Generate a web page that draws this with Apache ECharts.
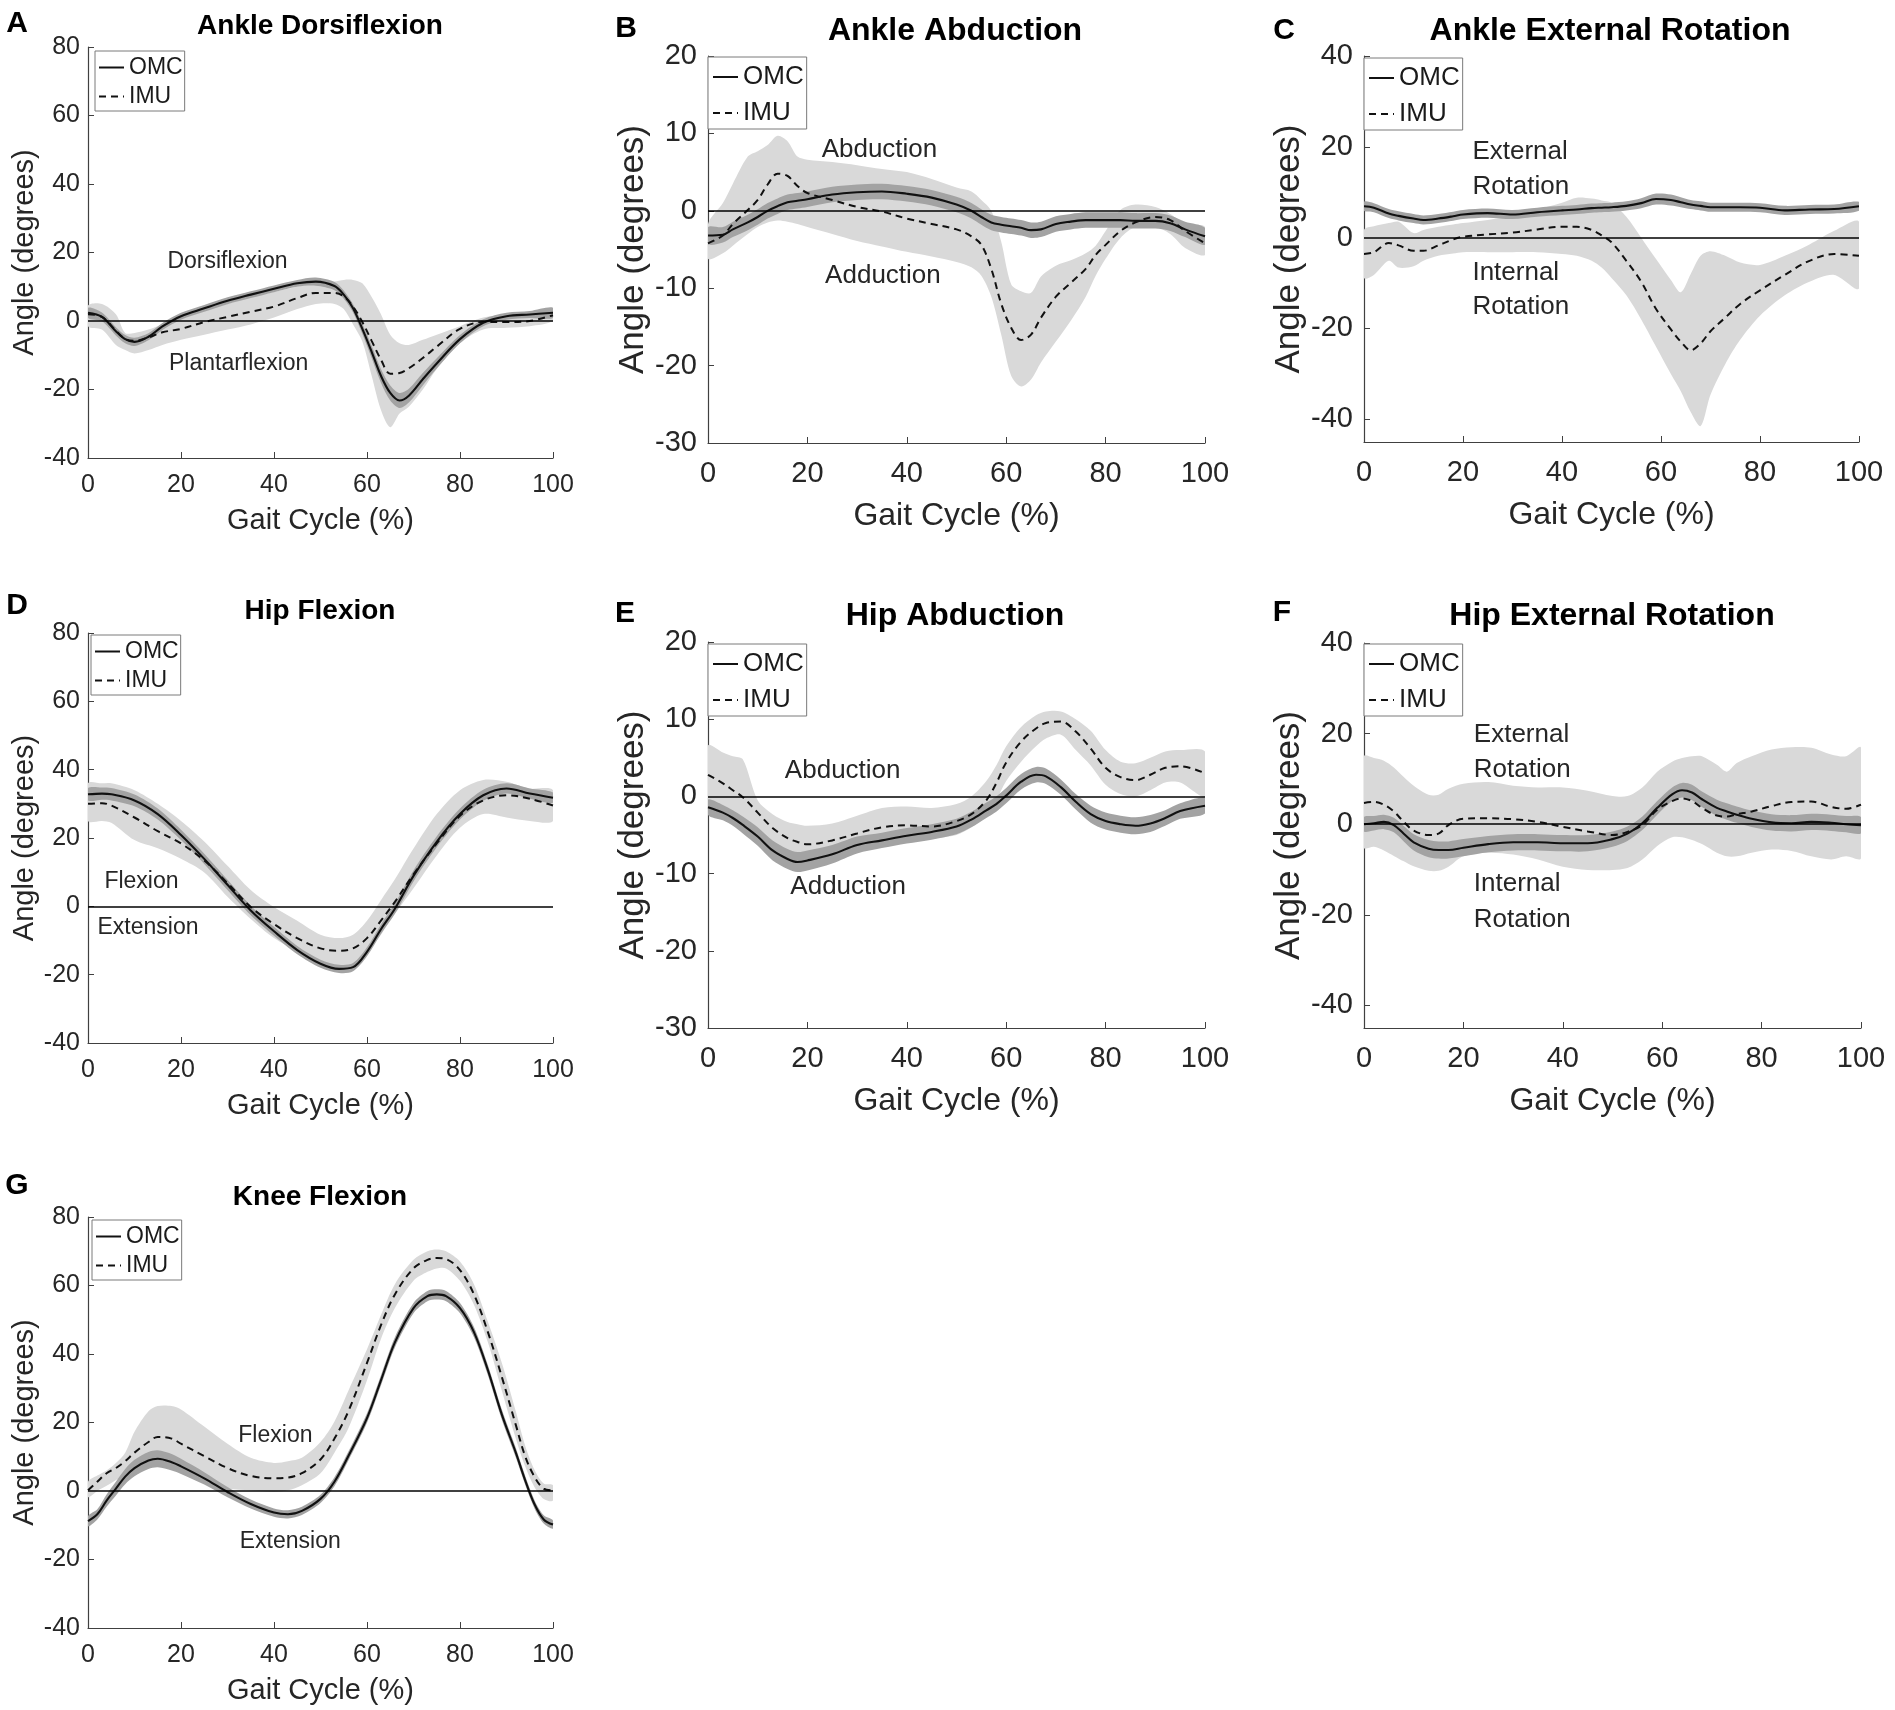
<!DOCTYPE html>
<html><head><meta charset="utf-8">
<script src="https://cdn.jsdelivr.net/npm/echarts@6/dist/echarts.min.js"></script>
<style>html,body{margin:0;padding:0;background:#fff}#c{width:1895px;height:1710px}</style>
</head><body><div id="c"></div>
<script>
// ---------------- DATA ----------------
const xTicks = [0, 20, 40, 60, 80, 100];
const yTicksRot = [-40, -20, 0, 20, 40];

// A  Ankle Dorsiflexion
const xA = [0,3,6,8,10,13,16,20,25,30,35,40,45,49,53,55,57,59,61,63,65,67,69,72,75,80,85,90,95,100];
const omcA = [2.4,1.2,-3,-5.3,-6.1,-4.6,-1.6,1.4,3.7,5.9,7.7,9.4,11,11.5,10.2,7.7,3.7,-2.3,-9,-16,-21,-23.2,-21.8,-17,-12.4,-5.3,-0.5,1.4,1.9,2.4];
const omcSdA = [1.5,1.3,1.2,1.2,1.2,1,1,1,1,1,1,1,1,1.2,1.2,1.2,1.2,1.5,1.8,2,2.2,2.2,2,1.8,1.5,1.2,1,1,1,1.5];
const imuA = [2,1.2,-2.8,-5.3,-5.8,-4.8,-3.3,-2.3,-0.3,1.2,2.7,4.2,6.7,8.2,8.2,7.2,4.2,-0.3,-5.8,-11.3,-15.4,-15.2,-13.8,-10.8,-7.5,-2.3,-0.3,-0.3,0,1.7];
const imuHiA = [4.5,5,2,-3.5,-3.5,-2.5,-1,0.5,3,5,7,8.5,10,11,11.5,12,12,11,7,2,-4,-6.5,-7,-5.5,-4,-1.5,1,1.5,1.5,3];
const imuLoA = [-1.5,-2.5,-7,-8.5,-9.5,-8.5,-7,-5.5,-4,-2.5,-1,1,3.5,5,5,3.5,-1,-6,-16,-26,-31,-27,-25,-20,-14,-6.5,-2.5,-2,-1.5,0];

// B  Ankle Abduction
const xB = [0,3,5,8,10,12,14,16,18,20,25,30,35,40,45,50,53,55,57,59,61,63,65,67,70,73,76,78,80,83,86,90,93,96,100];
const omcB = [-3.2,-3.1,-2.4,-1.5,-0.8,0,0.6,1.1,1.3,1.5,2.1,2.4,2.5,2.2,1.7,0.8,0,-0.8,-1.5,-1.8,-2,-2.2,-2.5,-2.4,-1.7,-1.4,-1.2,-1.2,-1.2,-1.2,-1.3,-1.3,-1.6,-2.4,-3.3];
const omcSdB = [1.1,1,1,1,1,1,1,1,1,1,1,1,1,1,1,1,1,1,1,1,1,1,1,1,1,1,1,1,1,1,1,1,1,1,1.1];
const imuB = [-4.2,-3.2,-1.7,0.1,1.4,3.4,4.8,4.5,3.2,2.3,1.4,0.5,-0.1,-1,-1.7,-2.4,-3.3,-4.4,-7.5,-12,-15.1,-16.7,-16,-13.8,-11.1,-9.3,-7.5,-5.7,-4.4,-2.6,-1.5,-0.8,-1.2,-2.6,-4.2];
const imuHiB = [-1.7,1,3.5,7,7.7,8.5,9.7,9,7,6.6,6.3,5.9,5.4,5,4.1,3,2.5,1.4,0,-4,-9.5,-10.4,-10.6,-8.5,-7.1,-6.4,-5.5,-4.5,-2.6,0.1,0.8,0.5,-0.4,-1.7,-2.1];
const imuLoB = [-6.2,-5.5,-4.5,-3,-2.1,-1.5,-1.25,-1.4,-1.7,-2.1,-3,-3.9,-4.6,-5.3,-5.9,-6.6,-7.3,-8.4,-11.1,-16,-21.3,-22.7,-21.8,-19.6,-16.9,-14.2,-11.1,-8.4,-6.2,-3.5,-2.1,-2.1,-3,-4.8,-5.7];

// C  Ankle External Rotation
const xC = [0,2,5,7,10,12,15,18,20,25,30,35,40,43,46,48,50,53,56,59,62,64,66,68,70,73,76,80,85,90,95,100];
const omcC = [6.9,6.6,5.3,4.8,4.2,3.9,4.2,4.7,5.1,5.4,5.1,5.6,6,6.2,6.5,6.6,6.7,7,7.6,8.5,8.3,7.8,7.3,7,6.7,6.7,6.7,6.6,6,6.2,6.3,6.9];
const omcSdC = [1,1,1,1,1,1,1,1,1,1,1,1,1,1,1,1,1,1,1.1,1.2,1.2,1.1,1,1,1,1,1,1,1,1,1,1];
const imuC = [-3.6,-3.2,-1.2,-1.7,-2.9,-2.9,-1.7,-0.4,0.2,0.7,1.1,1.8,2.4,2.4,1.7,0.5,-1,-5.1,-9.7,-15.7,-20.2,-22.9,-24.8,-23.3,-20.6,-17.6,-14.6,-11.6,-8.2,-5.1,-3.6,-4];
const imuHiC = [1.7,2.5,3.2,3.5,1,1.7,2.4,2.9,3.2,3.9,4.7,6.2,7.7,8.8,8.6,8.2,7.7,4.6,0,-4.7,-9.3,-12,-8,-4,-3,-4,-5.5,-6,-4,-1.5,1.5,3.5];
const imuLoC = [-8.9,-8.2,-5.1,-6.6,-6.3,-5.1,-4,-3.5,-3.2,-3.2,-3.2,-3.2,-3.6,-4,-5.1,-6.6,-8.9,-12.7,-18,-24,-30,-33.8,-38.4,-41.5,-34.6,-27.8,-22.5,-17.2,-12.7,-9.7,-8.2,-11.2];

// D  Hip Flexion
const xD = [0,3,5,10,15,20,25,30,35,40,45,50,54,57,60,63,66,70,75,80,85,90,95,100];
const omcD = [32.8,33,32.8,31,27,20.9,13.9,6.3,-1.2,-7.3,-12.8,-16.8,-18.3,-17.8,-13.3,-6.7,-0.7,8.9,18.9,27,32.5,34.5,33,31.8];
const omcSdD = [1.8,1.8,1.8,1.7,1.6,1.5,1.5,1.5,1.4,1.3,1.2,1.2,1.2,1.2,1.3,1.4,1.5,1.6,1.6,1.6,1.6,1.5,1.5,1.5];
const imuD = [30,30.2,29.5,26,22,18.4,13.4,6.8,-0.2,-5.2,-9.3,-12.3,-13,-12.3,-9.3,-4.2,1.3,9.4,18.4,26.5,31,32.5,31.5,29.5];
const imuHiD = [36,36,36,34,30,25,19,11.9,4.8,-0.2,-4.2,-8.3,-9.3,-8.3,-4.2,1.8,7.9,16.9,27,34,37,36.5,34.5,34];
const imuLoD = [25,25,24.5,19.4,17,13.9,9.9,2.8,-3.7,-9.3,-13.3,-17.3,-18.8,-17.8,-13.8,-8.3,-2.2,5.3,14.9,23,27,26,25,25];

// E  Hip Abduction
const xE = [0,3,5,7,10,13,16,18,20,25,30,35,40,45,50,53,56,58,60,63,66,68,71,74,77,80,83,86,89,92,95,100];
const omcE = [-1.4,-2.1,-2.8,-3.7,-5.2,-7,-8.1,-8.5,-8.3,-7.5,-6.3,-5.7,-5.1,-4.6,-3.9,-3,-1.8,-1,0.1,1.9,2.8,2.6,1.2,-0.7,-2.3,-3.2,-3.6,-3.8,-3.5,-2.8,-1.9,-1.2];
const omcSdE = [1,1,1,1.1,1.2,1.3,1.3,1.3,1.3,1.2,1.1,1,1,1,1,1,1,1,1,1,1,1,1,1,1.1,1.1,1.1,1.1,1.1,1,1,1];
const imuE = [2.8,1.7,0.8,-0.1,-2.1,-4.1,-5.4,-5.9,-6.2,-5.7,-4.8,-4,-3.75,-3.9,-3.2,-2.3,-0.5,1.7,4.4,7.1,8.8,9.5,9.7,8.4,6.2,3.7,2.5,2.1,2.8,3.7,3.9,3];
const imuHiE = [6.6,5.7,5.2,4.8,-0.5,-2.3,-3.3,-3.6,-3.8,-3.5,-2.5,-1.5,-1.3,-1.5,-1,0,2,4,6.5,9,10.5,11,11,10,8.5,6,4.5,4.3,5,5.8,6,5.8];
const imuLoE = [-1,-2.3,-3,-4,-5.5,-7,-8,-8.3,-8.5,-8,-7,-6.5,-6,-5.5,-5,-4,-2.5,-0.5,2,4.5,6.5,7.5,8,6,4,1.5,0.3,0,0.8,1.8,1.8,0];

// F  Hip External Rotation
const xF = [0,2,4,6,8,10,13,15,17,20,25,30,35,40,45,50,53,56,59,62,64,66,68,71,73,75,78,82,86,90,94,97,100];
const omcF = [0,0.2,0.5,-0.2,-2.1,-4,-5.4,-5.7,-5.7,-5.2,-4.4,-4,-4,-4.2,-4.2,-3.3,-2.1,0.2,3.6,6.6,7.5,7,5.5,3.6,2.8,2.1,1.2,0.4,0.2,0.5,0.3,0,-0.2];
const omcSdF = [1.6,1.6,1.6,1.6,1.7,1.8,1.9,1.9,1.9,1.9,1.8,1.8,1.8,1.8,1.8,1.7,1.6,1.5,1.5,1.5,1.6,1.7,1.7,1.8,1.8,1.8,1.8,1.8,1.8,1.8,1.8,1.8,1.8];
const imuF = [4.7,4.9,4.3,2.8,0.5,-1.4,-2.4,-2.1,-0.2,1.2,1.3,1.1,0.5,-0.6,-1.6,-2.4,-1.7,-0.2,3.2,5.1,5.7,5.1,3.6,1.9,1.7,2.2,2.8,4,4.9,5,3.8,3.4,4.3];
const imuHiF = [15,14.6,14,12.5,10.4,8.5,6.5,6.5,7.8,8.9,9.3,8.5,8.1,8.1,7.4,6.2,6.2,8.1,11.6,13.8,14.6,15,15,13.1,11.6,13.5,15,16.5,17,16.9,15.4,15,16.9];
const imuLoF = [-5.2,-5,-5.8,-7,-8.2,-9.3,-10.3,-10.3,-9.4,-7.1,-6.3,-6.7,-7.8,-9.4,-10.1,-10.1,-9.7,-7.8,-4.8,-2.9,-2.9,-3.5,-4.4,-6.3,-7.1,-7.1,-6.3,-5.6,-5.9,-7.1,-7.8,-7.1,-7.5];

// G  Knee Flexion
const xG = [0,2,4,6,8,10,13,15,18,20,25,30,35,40,43,46,50,53,56,60,63,66,70,73,75,77,80,83,86,89,92,94,96,98,100];
const omcG = [-8.8,-6.8,-2.8,0.7,4.2,6.7,8.9,9.4,8.4,7.2,3.7,-0.3,-3.8,-6.3,-6.8,-5.8,-2.3,2.7,10.2,21.3,32.3,43.4,53.4,56.9,57.4,56.9,53.4,46.4,35.3,22.3,11.2,3.2,-3.8,-8.3,-9.8];
const omcSdG = [1.5,1.5,1.8,2,2.2,2.4,2.5,2.5,2.4,2.2,1.8,1.5,1.3,1.2,1.2,1.2,1.2,1.3,1.3,1.4,1.5,1.5,1.5,1.5,1.5,1.5,1.5,1.5,1.5,1.5,1.4,1.3,1.2,1.2,1.2];
const imuG = [0.2,2.7,5.2,6.7,8.7,11.2,14.3,15.8,15.3,13.8,10.2,6.7,4.4,3.7,3.9,5.2,9.2,15.3,23.3,37.4,48.4,57.4,65,67.5,68,67.7,64.5,57.4,46.4,33.3,19.3,10.2,4.2,0.7,0.2];
const imuHiG = [2.7,4.5,6,8.2,11.2,17.3,23.3,24.8,24.8,23.8,18.8,13.8,9.7,8.2,8.7,9.7,14.3,20.3,29.3,41.4,51.4,60.4,67.5,70,70.5,70,67,60.4,49.4,37.4,23.3,13.3,6.2,2.2,1.7];
const imuLoG = [-1.8,0,1.5,3.2,4.7,6.7,8.2,8.7,7.7,6.2,2.7,0.7,0.2,-0.3,0.2,1.7,5.2,11.2,18.3,32.3,44.4,53.4,61.4,64,65,65,61.4,54.4,43.4,29.3,15.3,7.2,1.2,-2.3,-2.8];

// ---------------- LAYOUT / STYLE ----------------
const FONT = '"Liberation Sans", Arial, Helvetica, sans-serif';
const LIGHT = '#d9d9d9', DARK = '#a3a3a3', INK = '#262626', AXIS = '#404040';
const SMALL = {tick:25, xname:29, yname:29, title:28, note:23, leg:23, xMargin:15, yMargin:8, xGap:48, legPad:[4,2,2,3], legGap:4};
const BIG   = {tick:29, xname:32, yname:35, title:32, note:26, leg:26, xMargin:16, yMargin:11, xGap:57, legPad:[6,3,2,4], legGap:8};

const panels = [
  {id:'A', title:'Ankle Dorsiflexion', x:xA, omc:omcA, sd:omcSdA, imu:imuA, lo:imuLoA, hi:imuHiA,
   y:{min:-40,max:80,interval:20}, grid:{left:88,top:47,width:465,height:411}, S:SMALL, yGap:49,
   titleXY:[320,26], letterXY:[17,24], legXY:[95,51],
   notes:[[30,17.3,'Dorsiflexion','center'],[32.4,-12.4,'Plantarflexion','center']]},
  {id:'B', title:'Ankle Abduction', x:xB, omc:omcB, sd:omcSdB, imu:imuB, lo:imuLoB, hi:imuHiB,
   y:{min:-30,max:20,interval:10}, grid:{left:708,top:56,width:497,height:387}, S:BIG, yGap:54,
   titleXY:[955,31], letterXY:[626,29], legXY:[708,57],
   notes:[[34.5,7.9,'Abduction','center'],[35.2,-8.4,'Adduction','center']]},
  {id:'C', title:'Ankle External Rotation', x:xC, omc:omcC, sd:omcSdC, imu:imuC, lo:imuLoC, hi:imuHiC,
   y:{min:-45,max:40,custom:yTicksRot}, grid:{left:1364,top:56,width:495,height:386}, S:BIG, yGap:57,
   titleXY:[1610,31], letterXY:[1284,31], legXY:[1364,58],
   notes:[[21.9,19,'External','left'],[21.9,11.1,'Rotation','left'],[21.9,-7.8,'Internal','left'],[21.9,-15.3,'Rotation','left']]},
  {id:'D', title:'Hip Flexion', x:xD, omc:omcD, sd:omcSdD, imu:imuD, lo:imuLoD, hi:imuHiD,
   y:{min:-40,max:80,interval:20}, grid:{left:88,top:633,width:465,height:410}, S:SMALL, yGap:49,
   titleXY:[320,611], letterXY:[17,606], legXY:[91,635],
   notes:[[11.5,7.35,'Flexion','center'],[12.9,-6.2,'Extension','center']]},
  {id:'E', title:'Hip Abduction', x:xE, omc:omcE, sd:omcSdE, imu:imuE, lo:imuLoE, hi:imuHiE,
   y:{min:-30,max:20,interval:10}, grid:{left:708,top:642,width:497,height:386}, S:BIG, yGap:54,
   titleXY:[955,616], letterXY:[625,614], legXY:[708,644],
   notes:[[27.1,3.3,'Abduction','center'],[28.2,-11.7,'Adduction','center']]},
  {id:'F', title:'Hip External Rotation', x:xF, omc:omcF, sd:omcSdF, imu:imuF, lo:imuLoF, hi:imuHiF,
   y:{min:-45,max:40,custom:yTicksRot}, grid:{left:1364,top:643,width:497,height:385}, S:BIG, yGap:56,
   titleXY:[1612,616], letterXY:[1282,613], legXY:[1364,644],
   notes:[[22.1,19.8,'External','left'],[22.1,12.1,'Rotation','left'],[22.1,-13.2,'Internal','left'],[22.1,-21.1,'Rotation','left']]},
  {id:'G', title:'Knee Flexion', x:xG, omc:omcG, sd:omcSdG, imu:imuG, lo:imuLoG, hi:imuHiG,
   y:{min:-40,max:80,interval:20}, grid:{left:88,top:1217,width:465,height:411}, S:SMALL, yGap:49,
   titleXY:[320,1197], letterXY:[17,1186], legXY:[92,1220],
   notes:[[40.3,16.3,'Flexion','center'],[43.5,-14.9,'Extension','center']]}
];

const SMOOTH = 0.35;
const grids = [], xAxes = [], yAxes = [], legends = [], series = [], graphics = [];

// band drawn as one polygon through the axis scales (upper edge forward, lower edge back)
function bandSeries(i, xs, loArr, hiArr, color, z) {
  return {
    type:'custom', xAxisIndex:i, yAxisIndex:i, silent:true, clip:true, z:z,
    data:[[50, 0]],
    renderItem:(params, api) => {
      const pts = [];
      for (let k = 0; k < xs.length; k++) pts.push(api.coord([xs[k], hiArr[k]]));
      for (let k = xs.length - 1; k >= 0; k--) pts.push(api.coord([xs[k], loArr[k]]));
      return {type:'polygon', shape:{points:pts, smooth:0.3}, style:{fill:color, stroke:null}};
    }
  };
}

panels.forEach((p, i) => {
  const S = p.S;
  grids.push({left:p.grid.left, top:p.grid.top, width:p.grid.width, height:p.grid.height, containLabel:false});
  xAxes.push({
    gridIndex:i, type:'value', min:0, max:100, interval:20,
    name:'Gait Cycle (%)', nameLocation:'middle', nameGap:S.xGap,
    nameTextStyle:{fontSize:S.xname, color:INK, fontFamily:FONT},
    axisLine:{show:true, onZero:false, lineStyle:{color:AXIS, width:1.2}},
    axisTick:{show:true, inside:true, length:6, lineStyle:{color:AXIS}},
    axisLabel:{fontSize:S.tick, color:INK, fontFamily:FONT, margin:S.xMargin},
    splitLine:{show:false}
  });
  const ya = {
    gridIndex:i, type:'value', min:p.y.min, max:p.y.max,
    name:'Angle (degrees)', nameLocation:'middle', nameGap:p.yGap,
    nameTextStyle:{fontSize:S.yname, color:INK, fontFamily:FONT},
    axisLine:{show:true, onZero:false, lineStyle:{color:AXIS, width:1.2}},
    axisTick:{show:true, inside:true, length:6, lineStyle:{color:AXIS}},
    axisLabel:{fontSize:S.tick, color:INK, fontFamily:FONT, margin:S.yMargin},
    splitLine:{show:false}
  };
  if (p.y.custom) {
    ya.axisLabel.customValues = p.y.custom;
    ya.axisTick.customValues = p.y.custom;
  } else {
    ya.interval = p.y.interval;
  }
  yAxes.push(ya);

  legends.push({
    data:['OMC','IMU'], orient:'vertical', left:p.legXY[0], top:p.legXY[1],
    itemWidth:25, itemHeight:12, itemGap:S.legGap, padding:S.legPad,
    borderColor:'#7a7a7a', borderWidth:1, backgroundColor:'#ffffff',
    textStyle:{fontSize:S.leg, color:'#1a1a1a', fontFamily:FONT, lineHeight:S.leg+2},
    itemStyle:{color:'rgba(0,0,0,0)', borderColor:'rgba(0,0,0,0)', borderWidth:0},
    selectedMode:false
  });

  const omcLo = p.omc.map((v, k) => v - p.sd[k]);
  const omcHi = p.omc.map((v, k) => v + p.sd[k]);
  series.push(bandSeries(i, p.x, p.lo, p.hi, LIGHT, 1));
  series.push(bandSeries(i, p.x, omcLo, omcHi, DARK, 1.5));

  const base = {type:'line', xAxisIndex:i, yAxisIndex:i, symbol:'none', smooth:SMOOTH, silent:true, z:3};
  const pts = arr => p.x.map((v, k) => [v, arr[k]]);
  series.push(Object.assign({}, base, {name:'OMC', data:pts(p.omc),
    lineStyle:{color:'#111111', width:2.1, type:'solid'}, itemStyle:{color:'#111111'},
    markLine:{silent:true, symbol:['none','none'], label:{show:false},
      lineStyle:{color:'#000000', width:1.6, type:'solid'}, data:[{yAxis:0}]}}));
  series.push(Object.assign({}, base, {name:'IMU', data:pts(p.imu),
    lineStyle:{color:'#111111', width:2, type:[7,5]}, itemStyle:{color:'#111111'}}));
  series.push({
    type:'custom', xAxisIndex:i, yAxisIndex:i, silent:true, z:5,
    data:p.notes.map(n => [n[0], n[1]]),
    renderItem:(params, api) => {
      const n = p.notes[params.dataIndex];
      const c = api.coord([api.value(0), api.value(1)]);
      return {type:'text', x:c[0], y:c[1], style:{text:n[2], fill:INK, fontSize:S.note, fontFamily:FONT,
        align:n[3], verticalAlign:'middle'}};
    }
  });

  graphics.push({type:'text', x:p.titleXY[0], y:p.titleXY[1], style:{text:p.title, fill:'#000',
    fontSize:S.title, fontWeight:'bold', fontFamily:FONT, align:'center', verticalAlign:'middle'}});
  graphics.push({type:'text', x:p.letterXY[0], y:p.letterXY[1], style:{text:p.id, fill:'#000',
    fontSize:30, fontWeight:'bold', fontFamily:FONT, align:'center', verticalAlign:'middle'}});
});

const chart = echarts.init(document.getElementById('c'), null, {renderer:'canvas'});
chart.setOption({
  backgroundColor:'#ffffff',
  animation:false,
  grid:grids, xAxis:xAxes, yAxis:yAxes, legend:legends, series:series, graphic:graphics
});
</script></body></html>
